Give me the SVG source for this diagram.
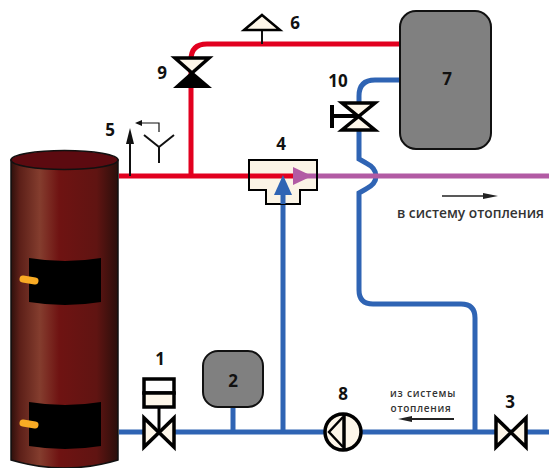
<svg xmlns="http://www.w3.org/2000/svg" width="549" height="468" viewBox="0 0 549 468">
<style>
.pipe{fill:none;stroke-width:5}
.red{stroke:#e2001f}
.blue{stroke:#2f64b4}
.pink{stroke:#b25ba4}
.sym{fill:#fdf6e9;stroke:#000;stroke-width:3.500;stroke-linejoin:miter}
.thin{fill:none;stroke:#111;stroke-width:2}
.flame{fill:none;stroke:#f9ab24;stroke-width:7;stroke-linecap:round}
.num{font-family:"Open Sans","DejaVu Sans",sans-serif;font-weight:700;font-size:17px;fill:#111;text-anchor:middle}
.cap{font-family:"Open Sans","DejaVu Sans",sans-serif;font-weight:600;fill:#333;text-anchor:middle}
.tank{fill:#808080;stroke:#111;stroke-width:2}
</style>
<defs>
<linearGradient id="tankGrad" x1="0" x2="1" y1="0" y2="0">
<stop offset="0" stop-color="#2e100c"/>
<stop offset=".08" stop-color="#5c1f18"/>
<stop offset=".27" stop-color="#843d2e"/>
<stop offset=".45" stop-color="#6f1312"/>
<stop offset=".8" stop-color="#601412"/>
<stop offset="1" stop-color="#2a0f0b"/>
</linearGradient>
</defs>
<g id="connectors">
<path class="pipe blue" d="M119 432H549"/>
<path class="pipe blue" d="M283 432V190"/>
<path class="pipe blue" d="M233 407V432"/>
<path class="pipe blue" d="M475 432V318Q475 304 461 304H373Q359 304 359 290V193L366 189Q376 184 376 176Q376 168 366 163L359 159V96Q359 80 375 80H400"/>
<path class="pipe red" d="M119 176H295"/>
<path class="pipe red" d="M191 176V60Q191 44 207 44H400"/>
<path class="pipe pink" d="M300 176H549"/>
<path class="thin" d="M262 30V44"/>
</g>
<g id="boiler">
<path d="M11 160V460Q65 476 118 460V160Z" fill="url(#tankGrad)" stroke="#111" stroke-width="1.500"/>
<ellipse cx="64.500" cy="160" rx="53.500" ry="9.500" fill="#5c0a10" stroke="#111" stroke-width="1.500"/>
<path d="M29 258Q65 264 101 258V302Q65 308 29 302Z" fill="#000"/>
<path d="M29 402Q65 408 101 402V446Q65 452 29 446Z" fill="#000"/>
<path class="flame" d="M23 279L35 281"/>
<path class="flame" d="M23 423L35 425"/>
</g>
<g id="node-1">
<rect x="144" y="379" width="30" height="14" fill="#fff" stroke="#000" stroke-width="3.500"/>
<rect x="144" y="393" width="30" height="14" class="sym"/>
<path class="sym" d="M144 418V447L174 418V447Z"/>
<path d="M159 407V432" stroke="#000" stroke-width="3"/>
<text class="num" x="160" y="365">1</text>
</g>
<g id="node-2">
<rect x="203" y="351" width="60" height="56" rx="15" class="tank"/>
<text class="num" x="233" y="387">2</text>
</g>
<g id="node-3">
<path class="sym" d="M496 418V447L526 418V447Z"/>
<text class="num" x="510" y="408">3</text>
</g>
<g id="node-4">
<path class="sym" style="fill:#fbf4e6;stroke-width:2" d="M249 160H317V190H300V204H266V190H249Z"/>
<path d="M250 176H295" stroke="#e2001f" stroke-width="5"/>
<path d="M295 176H316" stroke="#b25ba4" stroke-width="5"/>
<path d="M293 167L312 176L293 185Z" fill="#b25ba4"/>
<path d="M283 204V190" stroke="#2f64b4" stroke-width="5"/>
<path d="M283 175L292 195H274Z" fill="#2f64b4"/>
<text class="num" x="281" y="150">4</text>
</g>
<g id="node-5">
<path d="M130 176V140" stroke="#111" stroke-width="2"/>
<path d="M130 128L134 144H126Z" fill="#111"/>
<path class="thin" d="M144 135L159 147L174 135M159 147V163"/>
<path d="M159 132V123H140" fill="none" stroke="#111" stroke-width="1.200"/>
<path d="M135 123L142 120V126Z" fill="#111"/>
<text class="num" x="110" y="136">5</text>
</g>
<g id="node-6">
<path class="sym" style="stroke-width:2.500" d="M262 15L280 30H244Z"/>
<text class="num" x="295" y="29">6</text>
</g>
<g id="node-7">
<rect x="400" y="11" width="91" height="138" rx="16" class="tank"/>
<text class="num" x="447" y="85">7</text>
</g>
<g id="node-8">
<circle cx="343" cy="432" r="18" fill="#fdf6e9" stroke="#000" stroke-width="3.500"/>
<path d="M344 415V449" stroke="#000" stroke-width="3.500"/>
<path d="M343 417L329 432L343 447" fill="none" stroke="#000" stroke-width="2.500"/>
<text class="num" x="343" y="400">8</text>
</g>
<g id="node-9">
<path class="sym" d="M175 58H209L192 73Z"/>
<path d="M173 88H212L192 71Z" fill="#000"/>
<text class="num" x="162" y="79">9</text>
</g>
<g id="node-10">
<path class="sym" d="M342 103H375L342 130H375Z"/>
<path d="M332 105V128" stroke="#000" stroke-width="4"/>
<path d="M332 116H358" stroke="#000" stroke-width="4"/>
<text class="num" x="338" y="87">10</text>
</g>
<g id="labels">
<text class="cap" x="470.500" y="218" font-size="13.800">в систему отопления</text>
<path d="M442 196H485" stroke="#222" stroke-width="1.500"/>
<path d="M498 196L483 193V199Z" fill="#222"/>
<text class="cap" x="423" y="397" font-size="10" letter-spacing=".8">из системы</text>
<text class="cap" x="421" y="412" font-size="10" letter-spacing=".7">отопления</text>
<path d="M410 419H454" stroke="#222" stroke-width="2"/>
<path d="M398 419L412 416V422Z" fill="#222"/>
</g>
</svg>
